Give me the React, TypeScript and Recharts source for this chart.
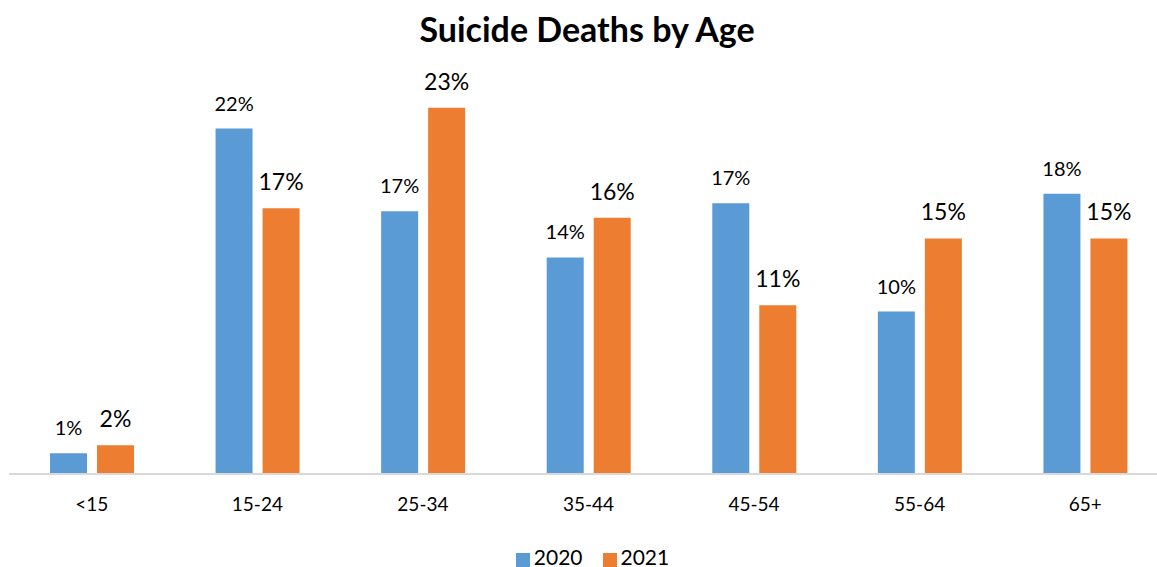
import {
  BarChart,
  Bar,
  XAxis,
  YAxis,
  Legend,
  LabelList,
} from 'recharts';

const ageGroups = ['<15', '15-24', '25-34', '35-44', '45-54', '55-64', '65+'];
const deaths2020 = [1.3, 21.7, 16.5, 13.6, 17.0, 10.2, 17.6];
const deaths2021 = [1.8, 16.7, 23.0, 16.1, 10.6, 14.8, 14.8];

const data = ageGroups.map((age, i) => ({
  age,
  y2020: deaths2020[i],
  y2021: deaths2021[i],
}));

const FONT = 'Lato, "Open Sans", sans-serif';

const pct = (v: any) => `${Math.round(Number(v))}%`;

function App() {
  return (
    <div
      style={{
        position: 'fixed',
        top: 0,
        left: 0,
        width: 1157,
        height: 567,
        overflow: 'hidden',
        background: '#fff',
        fontFamily: FONT,
      }}
    >
      <div
        style={{
          position: 'absolute',
          top: 8,
          left: 0,
          width: 1174,
          textAlign: 'center',
          fontSize: 34,
          fontWeight: 700,
          color: '#000',
        }}
      >
        Suicide Deaths by Age
      </div>

      <BarChart
        width={1170}
        height={567}
        data={data}
        margin={{ top: 76, right: 2, bottom: 43, left: 9 }}
        barSize={37}
        barGap={10}
      >
        <XAxis
          dataKey="age"
          tickLine={false}
          axisLine={{ stroke: '#d9d9d9', strokeWidth: 2 }}
          tick={{ fill: '#000', fontSize: 19, fontFamily: FONT }}
          tickMargin={18}
          interval={0}
        />
        <YAxis hide domain={[0, 25]} />
        <Legend
          verticalAlign="bottom"
          iconType="square"
          iconSize={14}
          wrapperStyle={{ bottom: 0, fontSize: 21, fontFamily: FONT, left: 23, lineHeight: '20px' }}
          formatter={(value: any) => (
            <span style={{ color: '#000', marginRight: 10 }}>{value}</span>
          )}
        />
        <Bar dataKey="y2020" name="2020" fill="#5b9bd5" isAnimationActive={false}>
          <LabelList
            dataKey="y2020"
            position="top"
            offset={18}
            formatter={pct}
            style={{ fill: '#000', fontSize: 20, fontFamily: FONT }}
          />
        </Bar>
        <Bar dataKey="y2021" name="2021" fill="#ed7d31" isAnimationActive={false}>
          <LabelList
            dataKey="y2021"
            position="top"
            offset={18}
            formatter={pct}
            style={{ fill: '#000', fontSize: 23, fontFamily: FONT }}
          />
        </Bar>
      </BarChart>
    </div>
  );
}

export default App;
